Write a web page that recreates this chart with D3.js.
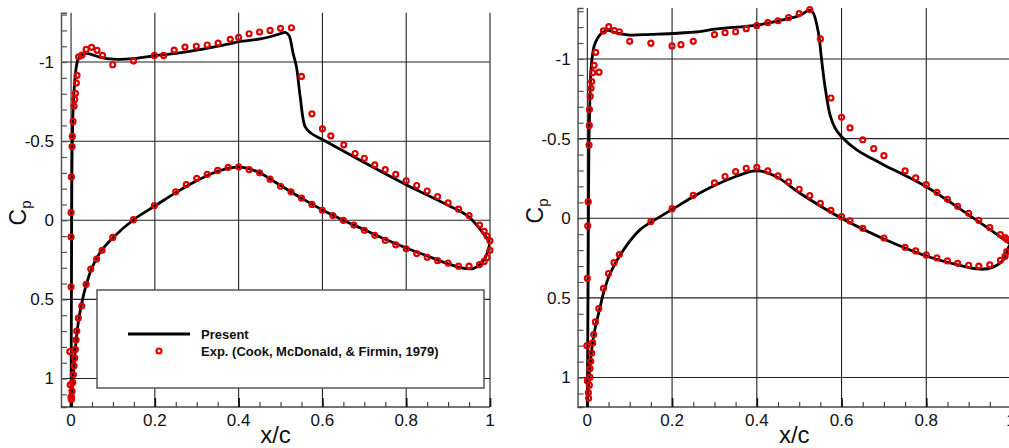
<!DOCTYPE html>
<html>
<head>
<meta charset="utf-8">
<script src="https://cdn.jsdelivr.net/npm/d3@7"></script>
<style>
  html, body { margin: 0; padding: 0; background: #fff; }
  svg { display: block; }
  text { font-family: "Liberation Sans", Arial, Helvetica, sans-serif; }
</style>
</head>
<body>
<svg id="chart" width="1009" height="448"></svg>
<script>
// ---------------- DATA ----------------
const xTicks = [0, 0.2, 0.4, 0.6, 0.8, 1];
const xTickLabels = ["0", "0.2", "0.4", "0.6", "0.8", "1"];
const yTicks = [-1, -0.5, 0, 0.5, 1];
const yTickLabels = ["-1", "-0.5", "0", "0.5", "1"];
const legendLabels = ["Present", "Exp. (Cook, McDonald, & Firmin, 1979)"];

// Left panel: computed ("Present") Cp, upper & lower surfaces [x/c, Cp]
const leftPresentUpper = [
  [0.0, 1.2], [0.0005, 0.8], [0.001, 0.4], [0.0015, 0.0], [0.002, -0.3], [0.003, -0.5],
  [0.005, -0.7], [0.008, -0.85], [0.012, -0.96], [0.017, -1.02], [0.025, -1.045],
  [0.036, -1.055], [0.05, -1.047], [0.07, -1.03], [0.1, -1.018], [0.15, -1.022],
  [0.2, -1.04], [0.25, -1.055], [0.3, -1.075], [0.35, -1.1], [0.38, -1.116], [0.4, -1.129],
  [0.452, -1.146], [0.475, -1.16], [0.5, -1.18], [0.511, -1.188], [0.52, -1.17],
  [0.53, -1.055], [0.538, -0.97], [0.547, -0.78], [0.559, -0.59], [0.573, -0.55],
  [0.6, -0.51], [0.69, -0.38], [0.8, -0.225], [0.9, -0.095], [0.95, -0.02], [1.0, 0.14]
];
const leftPresentLower = [
  [0.0, 1.2], [0.002, 1.1], [0.005, 0.98], [0.01, 0.82], [0.017, 0.65], [0.025, 0.53],
  [0.036, 0.41], [0.05, 0.3], [0.07, 0.2], [0.1, 0.11], [0.15, -0.005], [0.2, -0.09],
  [0.25, -0.175], [0.3, -0.25], [0.35, -0.31], [0.39, -0.335], [0.42, -0.33], [0.45, -0.3],
  [0.5, -0.22], [0.55, -0.14], [0.6, -0.065], [0.65, 0.0], [0.7, 0.06], [0.75, 0.12],
  [0.8, 0.175], [0.85, 0.225], [0.9, 0.275], [0.93, 0.3], [0.96, 0.305], [0.98, 0.27],
  [0.99, 0.23], [1.0, 0.14]
];
// Left panel: experiment
const leftExpUpper = [
  [0.0, 1.12], [-0.002, 1.04], [-0.003, 0.83], [0.0, 0.42], [0.0, 0.105], [0.0, -0.05],
  [0.0008, -0.274], [0.0024, -0.466], [0.0031, -0.53], [0.0048, -0.625], [0.0072, -0.722],
  [0.0088, -0.764], [0.0103, -0.802], [0.0127, -0.867], [0.0143, -0.916], [0.018, -1.033],
  [0.026, -1.044], [0.036, -1.08], [0.049, -1.093], [0.062, -1.074], [0.075, -1.042],
  [0.0996, -0.983], [0.149, -1.006], [0.199, -1.042], [0.221, -1.042], [0.246, -1.076],
  [0.272, -1.095], [0.299, -1.1], [0.325, -1.108], [0.351, -1.12], [0.38, -1.144],
  [0.4, -1.156], [0.425, -1.179], [0.45, -1.19], [0.475, -1.2], [0.5, -1.213],
  [0.526, -1.217], [0.55, -0.909], [0.575, -0.673], [0.6, -0.578], [0.62, -0.534],
  [0.651, -0.477], [0.678, -0.422], [0.7, -0.392], [0.725, -0.35], [0.75, -0.32],
  [0.775, -0.29], [0.8, -0.25], [0.825, -0.22], [0.85, -0.185], [0.875, -0.15],
  [0.9, -0.11], [0.925, -0.07], [0.95, -0.03], [0.975, 0.03], [0.986, 0.07],
  [0.993, 0.1], [1.0, 0.13]
];
const leftExpLower = [
  [0.0008, 1.133], [0.0008, 1.114], [0.0024, 1.08], [0.004, 1.025], [0.0055, 0.975],
  [0.0072, 0.92], [0.0088, 0.871], [0.0103, 0.816], [0.012, 0.755], [0.0136, 0.7],
  [0.0175, 0.618], [0.0256, 0.542], [0.036, 0.405], [0.047, 0.308], [0.061, 0.245],
  [0.074, 0.19], [0.0996, 0.108], [0.149, -0.004], [0.199, -0.093], [0.25, -0.18],
  [0.275, -0.225], [0.3, -0.265], [0.325, -0.29], [0.35, -0.315], [0.375, -0.335],
  [0.4, -0.338], [0.425, -0.32], [0.45, -0.3], [0.475, -0.26], [0.5, -0.215],
  [0.525, -0.18], [0.55, -0.14], [0.575, -0.1], [0.6, -0.063], [0.625, -0.03],
  [0.65, 0.0], [0.675, 0.03], [0.7, 0.063], [0.725, 0.095], [0.75, 0.127],
  [0.775, 0.155], [0.8, 0.18], [0.825, 0.21], [0.85, 0.234], [0.875, 0.255],
  [0.9, 0.27], [0.925, 0.29], [0.95, 0.29], [0.975, 0.28], [0.986, 0.26],
  [0.993, 0.235], [1.0, 0.19]
];

// Right panel: computed
const rightPresentUpper = [
  [0.0, 1.2], [0.001, 0.8], [0.002, 0.3], [0.003, -0.2], [0.004, -0.5], [0.006, -0.75],
  [0.008, -0.9], [0.011, -1.0], [0.016, -1.08], [0.024, -1.13], [0.035, -1.165],
  [0.05, -1.18], [0.065, -1.165], [0.1, -1.15], [0.15, -1.155], [0.2, -1.16],
  [0.265, -1.171], [0.3, -1.187], [0.4, -1.213], [0.45, -1.239], [0.5, -1.272],
  [0.525, -1.307], [0.533, -1.29], [0.545, -1.171], [0.553, -0.994], [0.561, -0.826],
  [0.573, -0.648], [0.585, -0.565], [0.6, -0.512], [0.636, -0.429], [0.675, -0.37],
  [0.7, -0.335], [0.8, -0.198], [0.895, -0.031], [0.95, 0.07], [1.0, 0.165]
];
const rightPresentLower = [
  [0.0, 1.2], [0.001, 1.12], [0.004, 1.0], [0.008, 0.88], [0.013, 0.77], [0.02, 0.67],
  [0.03, 0.56], [0.038, 0.47], [0.054, 0.345], [0.085, 0.2], [0.124, 0.073],
  [0.172, -0.01], [0.2, -0.055], [0.25, -0.135], [0.3, -0.205], [0.35, -0.262],
  [0.39, -0.296], [0.41, -0.296], [0.45, -0.255], [0.502, -0.157], [0.6, 0.0],
  [0.7, 0.13], [0.8, 0.237], [0.87, 0.29], [0.927, 0.32], [0.958, 0.307],
  [0.982, 0.262], [0.995, 0.178], [1.0, 0.165]
];
// Right panel: experiment
const rightExpUpper = [
  [0.003, 1.13], [0.0, 1.02], [-0.001, 0.8], [0.0, 0.377], [0.001, 0.048], [0.002, -0.104],
  [0.004, -0.46], [0.0047, -0.583], [0.005, -0.682], [0.007, -0.766], [0.0087, -0.816],
  [0.0103, -0.858], [0.0127, -0.914], [0.016, -0.96], [0.0276, -0.917], [0.0198, -1.042],
  [0.038, -1.176], [0.0505, -1.203], [0.064, -1.178], [0.0755, -1.171], [0.1, -1.111],
  [0.15, -1.099], [0.2, -1.082], [0.221, -1.09], [0.25, -1.111], [0.3, -1.153],
  [0.325, -1.165], [0.35, -1.171], [0.375, -1.19], [0.4, -1.209], [0.426, -1.228],
  [0.45, -1.24], [0.475, -1.259], [0.5, -1.285], [0.525, -1.31], [0.55, -1.126],
  [0.575, -0.755], [0.6, -0.634], [0.62, -0.567], [0.65, -0.493], [0.676, -0.437],
  [0.7, -0.393], [0.75, -0.297], [0.775, -0.253], [0.8, -0.211], [0.825, -0.163],
  [0.85, -0.119], [0.874, -0.075], [0.9, -0.031], [0.924, 0.013], [0.95, 0.059],
  [0.975, 0.103], [0.986, 0.122], [0.99, 0.132]
];
const rightExpLower = [
  [0.0024, 1.095], [0.0047, 1.048], [0.0063, 0.998], [0.0063, 0.944], [0.008, 0.898],
  [0.0103, 0.846], [0.0127, 0.783], [0.015, 0.73], [0.019, 0.651], [0.027, 0.567],
  [0.038, 0.44], [0.05, 0.347], [0.063, 0.279], [0.0755, 0.228], [0.15, 0.021],
  [0.2, -0.06], [0.25, -0.144], [0.3, -0.222], [0.325, -0.262], [0.35, -0.293],
  [0.375, -0.314], [0.4, -0.32], [0.426, -0.297], [0.45, -0.266], [0.475, -0.228],
  [0.5, -0.182], [0.525, -0.142], [0.55, -0.094], [0.575, -0.05], [0.6, -0.01],
  [0.62, 0.017], [0.65, 0.063], [0.7, 0.124], [0.75, 0.182], [0.775, 0.205],
  [0.8, 0.23], [0.825, 0.249], [0.85, 0.268], [0.874, 0.283], [0.9, 0.295],
  [0.924, 0.3], [0.95, 0.293], [0.975, 0.264], [0.986, 0.239], [0.99, 0.21]
];

// ---------------- DRAW ----------------
const svg = d3.select("#chart");
const RED = "#dc0000";

function drawPanel(cfg) {
  const x = d3.scaleLinear().domain(cfg.xDomain).range(cfg.xRange);
  const y = d3.scaleLinear().domain(cfg.yDomain).range(cfg.yRange);
  const g = svg.append("g");
  const [x0, x1] = cfg.xRange;
  const [yTop, yBot] = cfg.yRange;

  const clipId = "clip" + cfg.id;
  svg.append("clipPath").attr("id", clipId).append("rect")
    .attr("x", x0).attr("y", yTop).attr("width", x1 - x0).attr("height", yBot - yTop);

  // grid
  g.selectAll(".vg").data(xTicks).join("line")
    .attr("x1", d => x(d)).attr("x2", d => x(d))
    .attr("y1", yTop).attr("y2", yBot)
    .attr("stroke", "#222").attr("stroke-width", 1.1);
  g.selectAll(".hg").data(yTicks).join("line")
    .attr("x1", x0).attr("x2", x1)
    .attr("y1", d => y(d)).attr("y2", d => y(d))
    .attr("stroke", "#222").attr("stroke-width", 1.1);

  // y axis (left) with inward minor ticks
  const yAxis = d3.axisRight(y)
    .tickValues(d3.range(-13, 12).map(v => v / 10))
    .tickSize(6).tickFormat("");
  const ya = g.append("g").attr("transform", `translate(${x0},0)`).call(yAxis);
  ya.select(".domain").attr("stroke", "#555").attr("stroke-width", 1.5);
  ya.selectAll(".tick line").attr("stroke", "#555").attr("stroke-width", 1.2);

  // x axis (bottom) minor & major ticks pointing up
  const xMinor = d3.axisTop(x).tickValues(d3.range(0, 21).map(v => v / 20))
    .tickSize(5).tickFormat("");
  const xa = g.append("g").attr("transform", `translate(0,${yBot})`).call(xMinor);
  xa.select(".domain").attr("stroke", "#444").attr("stroke-width", 1.5)
    .attr("d", `M${x0},0H${x1}`);
  xa.selectAll(".tick line").attr("stroke", "#444").attr("stroke-width", 1.2);
  const xMajor = d3.axisTop(x).tickValues(xTicks).tickSize(9).tickFormat("");
  const xb = g.append("g").attr("transform", `translate(0,${yBot})`).call(xMajor);
  xb.select(".domain").remove();
  xb.selectAll(".tick line").attr("stroke", "#111").attr("stroke-width", 1.6);

  // tick labels
  g.selectAll(".yl").data(yTicks).join("text")
    .attr("x", x0 - 7).attr("y", d => y(d)).attr("dy", "0.35em")
    .attr("text-anchor", "end").attr("font-size", 17).attr("fill", "#111")
    .text((d, i) => yTickLabels[i]);
  g.selectAll(".xl").data(xTicks).join("text")
    .attr("x", d => x(d)).attr("y", yBot + 18.5)
    .attr("text-anchor", "middle").attr("font-size", 17).attr("fill", "#111")
    .text((d, i) => xTickLabels[i]);

  // axis titles
  g.append("text").attr("x", (x0 + x1) / 2).attr("y", 443)
    .attr("text-anchor", "middle").attr("font-size", 24).attr("fill", "#111").text("x/c");
  const cp = g.append("text")
    .attr("transform", `translate(${x0 - 35},${cfg.cpY}) rotate(-90)`)
    .attr("text-anchor", "middle").attr("font-size", 23).attr("fill", "#111");
  cp.append("tspan").text("C");
  cp.append("tspan").attr("font-size", 15).attr("dy", 5).text("p");

  if (cfg.legend) cfg.legend(g);

  // lines
  const line = d3.line().x(d => x(d[0])).y(d => y(d[1])).curve(d3.curveCatmullRom.alpha(0.5));
  const lg = g.append("g").attr("clip-path", `url(#${clipId})`);
  [cfg.presentUpper, cfg.presentLower].forEach(arr => {
    lg.append("path").datum(arr).attr("d", line)
      .attr("fill", "none").attr("stroke", "#000").attr("stroke-width", 2.8)
      .attr("stroke-linejoin", "round");
  });
  // markers
  const mg = g.append("g");
  mg.selectAll("circle").data(cfg.expUpper.concat(cfg.expLower)).join("circle")
    .attr("cx", d => x(d[0])).attr("cy", d => y(d[1])).attr("r", 2.5)
    .attr("fill", "none").attr("stroke", RED).attr("stroke-width", 2.2);
}

drawPanel({
  id: "L",
  xDomain: [-0.024, 1.0], xRange: [61, 490],
  yDomain: [-1.312, 1.18], yRange: [12.7, 407],
  cpY: 213,
  presentUpper: leftPresentUpper, presentLower: leftPresentLower,
  expUpper: leftExpUpper, expLower: leftExpLower,
  legend: g => {
    const lgd = g.append("g");
    lgd.append("rect").attr("x", 97).attr("y", 290).attr("width", 387).attr("height", 98)
      .attr("fill", "#fff").attr("stroke", "#555").attr("stroke-width", 1.5);
    lgd.append("line").attr("x1", 128).attr("x2", 190).attr("y1", 334).attr("y2", 334)
      .attr("stroke", "#000").attr("stroke-width", 3);
    lgd.append("circle").attr("cx", 159).attr("cy", 351).attr("r", 2.5)
      .attr("fill", "none").attr("stroke", RED).attr("stroke-width", 2.2);
    lgd.selectAll(".lt").data(legendLabels).join("text")
      .attr("x", 201).attr("y", (d, i) => 338.5 + i * 17)
      .attr("font-size", 13).attr("font-weight", "bold").attr("fill", "#111")
      .text(d => d);
  }
});

drawPanel({
  id: "R",
  xDomain: [-0.023, 1.0], xRange: [577.6, 1011],
  yDomain: [-1.32, 1.185], yRange: [8, 407],
  cpY: 211,
  presentUpper: rightPresentUpper, presentLower: rightPresentLower,
  expUpper: rightExpUpper, expLower: rightExpLower
});
</script>
</body>
</html>
